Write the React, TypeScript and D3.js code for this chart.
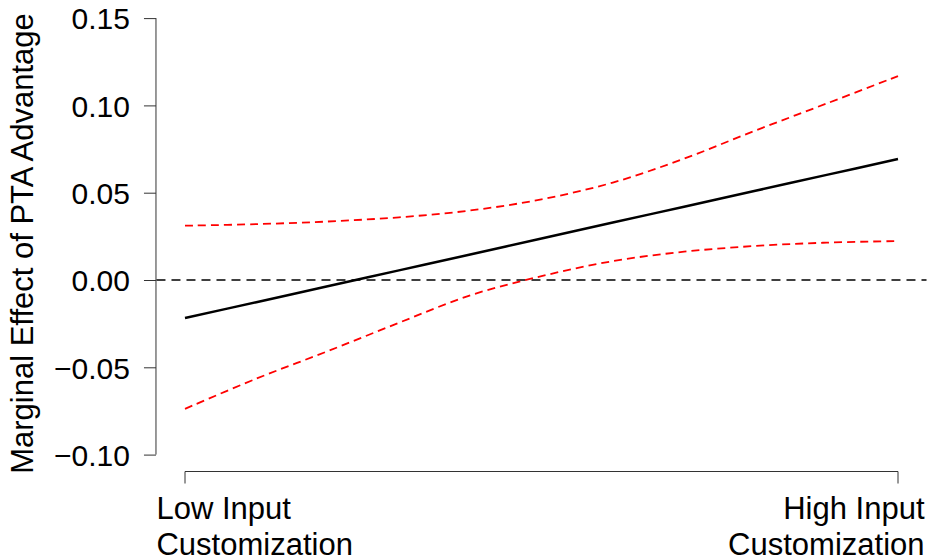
import React, { useRef, useEffect } from "react";
import * as d3 from "d3";

// moderator positions (0 = low, 1 = high input customization)
const moderator = [0, 0.1, 0.2, 0.3, 0.4, 0.5, 0.6, 0.7, 0.8, 0.9, 1.0];
const effect = [-0.0218, -0.0127, -0.0036, 0.0055, 0.0146, 0.0238, 0.0329, 0.042, 0.0511, 0.0602, 0.0693];
const upper = [0.0311, 0.032, 0.0335, 0.0359, 0.0398, 0.0462, 0.0558, 0.0695, 0.0856, 0.1011, 0.1168];
const lower = [-0.0738, -0.0565, -0.0408, -0.0245, -0.0088, 0.0022, 0.0108, 0.0162, 0.0195, 0.0214, 0.0223];
const yTicks = [-0.1, -0.05, 0, 0.05, 0.1, 0.15];
const xTickLabels = [
  ["Low Input", "Customization"],
  ["High Input", "Customization"],
];
const yTitle = "Marginal Effect of PTA Advantage";

const width = 931;
const height = 560;
const font = "'Liberation Sans', Arial, Helvetica, sans-serif";

export default function App() {
  const yAxisRef = useRef<SVGGElement>(null);

  const x = d3.scaleLinear().domain([0, 1]).range([185, 898]);
  const y = d3.scaleLinear().domain([-0.1, 0.15]).range([454.6, 18.1]);
  const axisX = x(-0.04) - 0.5;
  const axisY = 471.5;

  useEffect(() => {
    if (!yAxisRef.current) return;
    const g = d3.select(yAxisRef.current);
    g.selectAll("*").remove();
    g.call(
      d3
        .axisLeft(y)
        .tickValues(yTicks)
        .tickSize(12)
        .tickPadding(14)
        .tickFormat((d) => d3.format(".2f")(d as number).replace("-", "\u2212"))
    );
    g.select(".domain").attr("d", `M0,${y(0.15)}V${y(-0.1)}`).attr("stroke", "#333");
    g.selectAll(".tick line").attr("stroke", "#333");
    g.selectAll(".tick text")
      .attr("font-family", font)
      .attr("font-size", 30)
      .attr("fill", "#000")
      .attr("dy", "0.36em");
  }, []);

  const line = d3
    .line<number>()
    .x((_, i) => x(moderator[i]))
    .y((d) => y(d))
    .curve(d3.curveCatmullRom);

  return (
    <svg
      width={width}
      height={height}
      style={{ position: "absolute", left: 0, top: 0, background: "#fff" }}
    >
      <g ref={yAxisRef} transform={`translate(${axisX},0)`} fontFamily={font} />

      {/* x axis: only the two end ticks */}
      <g stroke="#333" strokeWidth={1} fill="none">
        <path d={`M${x(0)},${axisY + 12}V${axisY}H${x(1)}V${axisY + 12}`} />
      </g>
      <g fontFamily={font} fontSize={31} fill="#000">
        <text x={x(-0.04)} y={519} textAnchor="start">
          <tspan x={x(-0.04)}>{xTickLabels[0][0]}</tspan>
          <tspan x={x(-0.04)} dy={36}>{xTickLabels[0][1]}</tspan>
        </text>
        <text x={x(1.04)} y={519} textAnchor="end">
          <tspan x={x(1.04) - 2}>{xTickLabels[1][0]}</tspan>
          <tspan x={x(1.04) - 2} dy={36}>{xTickLabels[1][1]}</tspan>
        </text>
      </g>

      <text
        transform={`translate(33,${(10 + 477) / 2}) rotate(-90)`}
        textAnchor="middle"
        fontFamily={font}
        fontSize={31}
        fill="#000"
      >
        {yTitle}
      </text>

      {/* reference line at zero */}
      <line
        x1={x(-0.04)}
        x2={x(1.04)}
        y1={y(0)}
        y2={y(0)}
        stroke="#000"
        strokeWidth={1.6}
        strokeDasharray="9,6"
      />

      <path d={line(upper) ?? ""} fill="none" stroke="#ff0000" strokeWidth={1.8} strokeDasharray="8,5" />
      <path d={line(lower) ?? ""} fill="none" stroke="#ff0000" strokeWidth={1.8} strokeDasharray="8,5" />
      <path d={line(effect) ?? ""} fill="none" stroke="#000" strokeWidth={2.5} />
    </svg>
  );
}
